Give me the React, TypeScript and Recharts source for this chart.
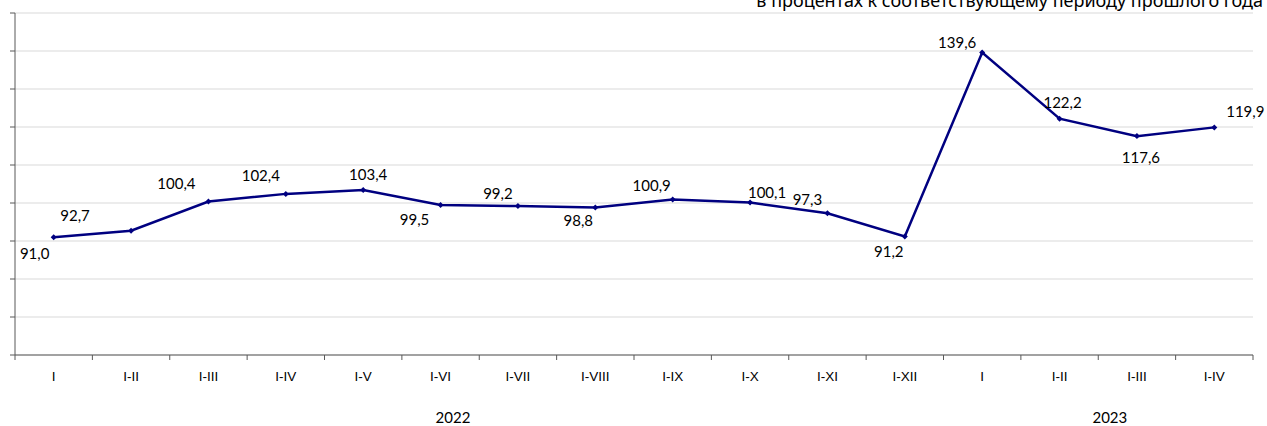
import { LineChart, Line, XAxis, YAxis, CartesianGrid, LabelList } from "recharts";

// periods (2022: I..I-XII, 2023: I..I-IV)
const categories = ["I", "I-II", "I-III", "I-IV", "I-V", "I-VI", "I-VII", "I-VIII", "I-IX", "I-X", "I-XI", "I-XII", "I", "I-II", "I-III", "I-IV"];
const values = [91.0, 92.7, 100.4, 102.4, 103.4, 99.5, 99.2, 98.8, 100.9, 100.1, 97.3, 91.2, 139.6, 122.2, 117.6, 119.9];
const years = ["2022", "2023"];
const yearPos = [5.66, 14.15]; // where Excel put the year captions, in category units
const yTicks = [60, 70, 80, 90, 100, 110, 120, 130, 140, 150];

// label nudges relative to each point (dx, dy)
const labelOffsets: [number, number][] = [
  [-19, 16], [-56, -16], [-32, -18], [-25, -19], [5, -16], [-26, 14], [-20, -13], [-17, 12],
  [-21, -15], [17, -11], [-20, -14], [-16, 15], [-25, -11], [3, -17], [4, 21], [31, -16],
];

const W = 1267;
const H = 426;
const NAVY = "#000080";
const AXIS = "#595959";
const LABEL_FONT = "Lato, 'Open Sans', sans-serif";

const data = values.map((v, i) => ({ pos: i + 0.5, value: v }));

const xTicks: number[] = [];
for (let i = 0; i <= categories.length; i++) {
  xTicks.push(i);
  if (i < categories.length) xTicks.push(i + 0.5);
}
const allXTicks = [...xTicks, ...yearPos];

const fmt = (v: number) => v.toFixed(1).replace(".", ",");

function XTick(props: any) {
  const { x, y, payload } = props;
  const v: number = payload.value;
  const yi = yearPos.indexOf(v);
  if (yi >= 0) {
    return (
      <text x={x} y={y + 68} textAnchor="middle" fontFamily={LABEL_FONT} fontSize={15} fill="#000">
        {years[yi]}
      </text>
    );
  }
  if (Number.isInteger(v)) {
    return <line x1={x} x2={x} y1={y} y2={y + 5} stroke={AXIS} strokeWidth={1} />;
  }
  return (
    <text x={x} y={y + 26} textAnchor="middle" fontFamily="'Liberation Sans', Arial, sans-serif" fontSize={13.5} fill="#000">
      {categories[Math.floor(v)]}
    </text>
  );
}

const NoTick = () => <g />;

function Diamond(props: any) {
  const { cx, cy } = props;
  if (cx == null || cy == null) return null;
  const r = 3;
  return <path d={`M${cx},${cy - r}L${cx + r},${cy}L${cx},${cy + r}L${cx - r},${cy}Z`} fill={NAVY} />;
}

function PointLabel(props: any) {
  const { x, y, value, index } = props;
  const [dx, dy] = labelOffsets[index] ?? [0, -14];
  return (
    <text x={x + dx} y={y + dy} textAnchor="middle" dominantBaseline="central" fontFamily={LABEL_FONT} fontSize={15} fill="#000">
      {fmt(Number(value))}
    </text>
  );
}

export default function App() {
  return (
    <div style={{ position: "absolute", left: 0, top: 0, width: W, height: H, background: "#fff", overflow: "hidden" }}>
      <LineChart width={W} height={H} data={data} margin={{ top: 13, right: 14, left: 0, bottom: 0 }}>
        <CartesianGrid horizontal vertical={false} stroke="#d9d9d9" strokeWidth={1.2} />
        <XAxis
          dataKey="pos"
          type="number"
          domain={[0, categories.length]}
          ticks={allXTicks}
          interval={0}
          height={71}
          tickSize={0}
          tickMargin={0}
          tickLine={false}
          axisLine={{ stroke: AXIS }}
          tick={<XTick />}
          allowDataOverflow
        />
        <YAxis
          type="number"
          domain={[60, 150]}
          ticks={yTicks}
          interval={0}
          width={15}
          tick={<NoTick />}
          tickSize={5}
          tickLine={{ stroke: AXIS }}
          axisLine={{ stroke: AXIS }}
        />
        <Line
          type="linear"
          dataKey="value"
          stroke={NAVY}
          strokeWidth={2.5}
          dot={<Diamond />}
          activeDot={false}
          isAnimationActive={false}
        >
          <LabelList dataKey="value" content={<PointLabel />} />
        </Line>
      </LineChart>
      <div
        style={{
          position: "absolute",
          right: 4,
          top: -12,
          fontFamily: "'Noto Sans', 'Open Sans', sans-serif",
          fontSize: 18,
          whiteSpace: "nowrap",
          color: "#000",
        }}
      >
        в процентах к соответствующему периоду прошлого года
      </div>
    </div>
  );
}
